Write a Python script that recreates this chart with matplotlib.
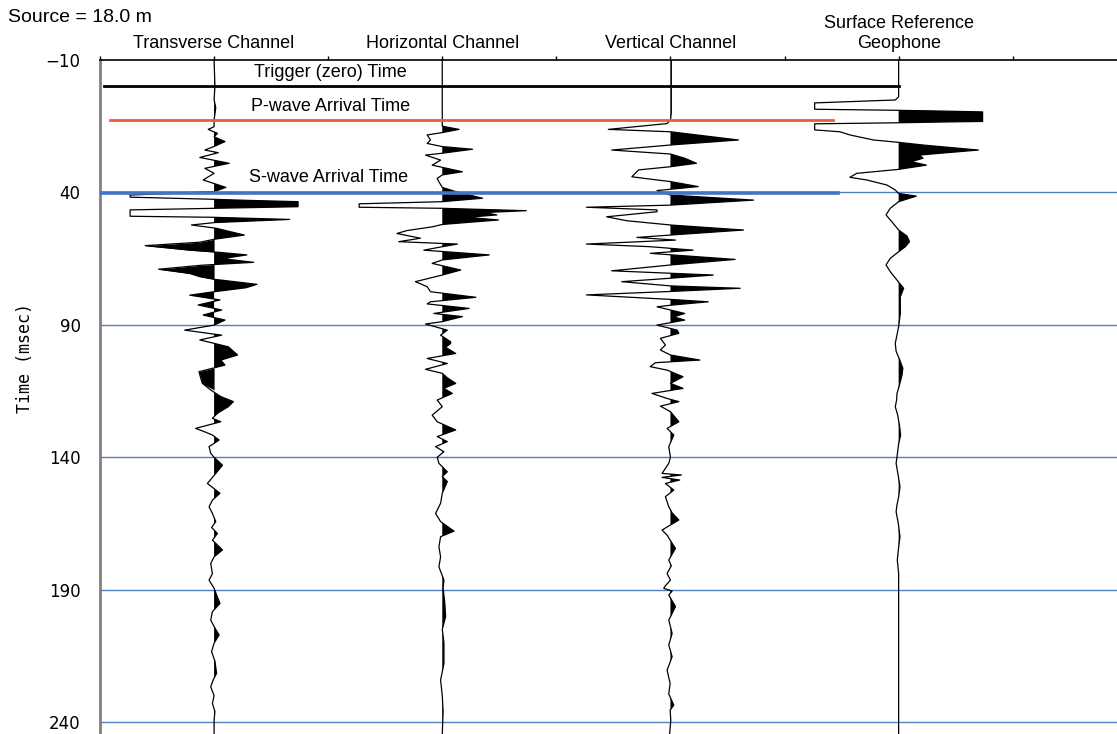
import numpy as np
import matplotlib
matplotlib.use("Agg")
import matplotlib.pyplot as plt

# --- trace data: time (ms) and normalised amplitude (+-1 = clip level) ---
t_transverse = [-10, 0, 5, 8, 12.7, 15.2, 16.2, 17.7, 19, 20.8, 22.5, 24.0, 25.0, 26.8, 29.0, 30.9,
                32.8, 35.3, 38.1, 39.7, 41.0, 41.8, 42.6, 43.0, 43.5, 45.4, 46.0, 46.6, 49.0, 49.4,
                50.2, 51.4, 52.3, 53.5, 56.1, 57.7, 58.8, 60.1, 61.8, 62.6, 63.6, 65.0, 66.4, 67.5,
                69.0, 70.6, 71.8, 72.8, 74.7, 76.0, 77.5, 78.8, 80.6, 82.5, 84.4, 86.3, 88.2, 90.1,
                92.0, 93.9, 95.7, 98.3, 101.4, 103.3, 105.2, 107.7, 110.0, 112.1, 114.6, 117.1,
                119.0, 120.9, 123.4, 125.3, 126.6, 129.1, 130.3, 131.6, 133.5, 136.0, 138.5, 140.0,
                143.0, 146.1, 149.9, 153.6, 156.2, 158.7, 161.2, 164.3, 166.5, 168.8, 171.3, 175.0,
                177.6, 180.1, 183.9, 186.4, 189.5, 192.0, 195.2, 198.3, 201.5, 204.5, 207.1, 210.2,
                213.4, 217.0, 221.6, 224.0, 226.7, 230.0, 233.0, 236.0, 239.3, 244.5]
a_transverse = [0, 0.01, 0.0, 0.02, 0, 0, -0.07, 0.04, 0, 0.13, 0.01, -0.11, 0.05, -0.17, 0.18, -0.11,
                0, -0.13, 0.14, 0, -1.0, -1.0, 0, 0.4, 1.0, 1.0, 0, -1.0, -1.0, 0,
                0.9, 0, -0.27, 0.02, 0.36, 0, -0.17, -0.82, -0.29, 0.05, 0.39, 0.1, 0.47, -0.15,
                -0.66, -0.29, -0.17, 0, 0.51, 0.38, 0, -0.29, 0.07, -0.19, 0.09, -0.13, 0.13, 0,
                -0.35, 0.09, -0.17, 0.17, 0.28, 0.08, 0.13, -0.18, -0.16, -0.14, -0.04, 0.08,
                0.23, 0.17, 0.04, -0.02, 0.08, -0.22, -0.12, -0.02, 0.06, -0.06, -0.04, 0,
                0.1, 0.02, -0.08, 0.07, -0.02, -0.06, -0.02, 0.02, -0.03, 0.04, -0.02, 0.1,
                0, -0.04, -0.02, -0.06, 0, 0.03, 0.07, -0.02, -0.04, 0.01, 0.06, 0.0,
                -0.03, 0.01, 0.03, -0.01, -0.04, 0.0, -0.02, 0.01, 0.0, 0.0]
# windows where the transverse trace is dense enough to look solid on both sides
transverse_dense = [(58.0, 62.5), (67.0, 72.0), (77.0, 89.0), (106.0, 113.0)]

t_horizontal = [-10, 12.7, 15.0, 16.2, 17.4, 18.3, 20.2, 21.5, 22.7, 23.7, 25.2, 25.9, 27.8, 29.7,
                32.2, 33.4, 34.7, 36.0, 38.1, 39.7, 42.2, 43.5, 44.3, 45.6, 46.0, 46.9, 47.6, 48.5,
                49.4, 50.4, 52.1, 53.0, 54.4, 55.5, 57.3, 58.6, 59.5, 60.5, 61.8, 63.6, 65.5, 66.8,
                69.3, 71.2, 73.7, 75.6, 77.5, 79.6, 81.3, 82.1, 83.8, 85.7, 86.9, 88.8, 89.7, 92.0,
                93.9, 96.4, 97.0, 98.5, 100.8, 102.7, 104.6, 106.8, 108.3, 110.0, 112.1, 114.0,
                115.9, 118.4, 120.9, 124.1, 126.6, 129.7, 132.2, 134.1, 136.0, 137.9, 140.0, 142.3,
                145.5, 147.3, 149.2, 153.6, 157.4, 161.2, 164.3, 167.9, 170.0, 173.8, 177.6, 181.4,
                186.4, 189.5, 195.0, 200.2, 205.0, 210.0, 217.9, 224.1, 230.0, 236.0, 244.5]
a_horizontal = [0, 0, 0, 0.2, 0, -0.18, -0.14, -0.18, 0, 0.36, 0, -0.2, -0.02, -0.12,
                0.24, 0, -0.06, -0.04, 0, 0.16, 0.48, 0, -0.99, -0.99, 0, 1.0, 0.5, 0.65,
                0.3, 0.67, 0, -0.12, -0.42, -0.54, -0.26, -0.52, 0.18, 0, -0.22, 0.56, 0, -0.12,
                0.22, 0, -0.32, -0.18, -0.14, 0.4, -0.14, -0.18, 0.32, -0.1, 0.24, 0, -0.2, 0.06,
                -0.02, 0.1, 0.1, 0.04, 0.16, -0.18, 0.06, -0.2, 0, 0.06, 0.16, 0.02,
                0.12, -0.06, 0, -0.12, -0.06, 0.16, -0.06, 0.06, -0.08, 0.02, -0.06, -0.04,
                0.06, 0.0, 0.06, 0, -0.02, -0.08, -0.02, 0.14, -0.02, -0.04, -0.02, -0.04,
                0.02, 0.01, 0.03, 0.04, 0.0, 0.02, 0.02, -0.02, 0.0, 0.01, 0]

t_vertical = [-10, 10, 12.7, 14.0, 16.2, 17.1, 20.2, 22.1, 24.0, 25.5, 27.1, 29.0, 30.3, 31.5,
              34.1, 35.3, 35.9, 37.8, 39.3, 41.0, 42.9, 44.8, 45.6, 46.6, 47.3, 49.2, 50.7, 52.3,
              54.2, 56.1, 57.0, 58.0, 59.5, 60.5, 61.8, 63.0, 65.3, 67.4, 69.6, 71.2, 72.4, 73.7,
              75.3, 76.2, 77.4, 78.7, 80.4, 81.3, 82.6, 83.2, 84.4, 85.7, 87.0, 88.2, 90.1, 92.0,
              93.2, 95.1, 97.6, 99.5, 101.4, 103.3, 104.3, 105.8, 107.1, 109.6, 112.1, 114.0,
              115.9, 117.8, 119.0, 120.7, 122.8, 126.6, 129.1, 131.6, 136.0, 140.0, 142.3, 146.1,
              146.7, 147.6, 148.6, 149.9, 152.4, 154.9, 158.7, 161.0, 163.7, 165.2, 167.5, 169.4,
              172.5, 174.4, 178.8, 181.0, 183.9, 186.4, 188.5, 189.5, 190.5, 192.0, 196.4, 201.5,
              206.5, 210.9, 215.3, 220.4, 225.4, 229.4, 233.6, 235.5, 239.3, 244.5]
a_vertical = [0.01, 0.01, 0, -0.04, -0.74, 0, 0.81, 0, -0.7, 0, 0.17, 0.31, 0, -0.38,
              -0.46, -0.16, 0, 0.33, -0.16, 0, 0.99, 0, -1.0, -0.16, -0.16, -0.76, -0.52, 0,
              0.87, 0, -0.4, 0.06, -1.0, -0.24, 0.27, -0.24, 0.77, 0, -0.7, 0.51, 0, -0.58,
              0, 0.83, 0, -1.0, 0, 0.45, 0, -0.16, 0, 0.17, 0.04, 0.17, -0.16, 0.08,
              0.1, -0.12, -0.06, -0.12, 0, 0.35, -0.18, -0.24, -0.04, 0.15, 0, 0.15,
              -0.22, -0.04, 0.1, -0.12, 0, 0.1, -0.04, 0.04, -0.02, 0, -0.02, -0.1,
              0.13, -0.1, 0.11, -0.06, 0.04, -0.06, -0.02, 0.02, 0.1, 0.02, -0.1, -0.04,
              0.02, 0.06, -0.02, 0.01, -0.04, 0.0, -0.06, -0.08, 0.02, -0.02, 0.06, -0.02,
              0.02, -0.02, 0.02, -0.04, -0.004, -0.02, 0.04, -0.004, 0.004, -0.01]

t_surface = [-10, 3.9, 5.1, 6.2, 8.6, 9.0, 9.3, 9.6, 13.2, 13.4, 13.7, 14.1, 16.4, 17.1, 18.3,
             20.2, 21.1, 22.1, 24.0, 25.2, 25.9, 27.1, 28.4, 29.7, 31.3, 32.8, 34.3, 35.3, 37.2,
             39.1, 40.4, 41.4, 43.5, 46.0, 48.5, 51.1, 54.2, 56.5, 58.6, 60.5, 62.4, 64.9, 67.4,
             69.9, 73.1, 76.2, 79.4, 85.7, 90.7, 97.0, 100.0, 103.0, 106.4, 109.0, 112.7, 116.0,
             118.4, 120.9, 124.0, 128.0, 131.6, 135.0, 139.0, 142.3, 146.0, 151.1, 155.0, 158.0,
             160.6, 165.0, 170.0, 174.0, 178.8, 183.9, 244.5]
a_surface = [0, 0, -0.04, -1.0, -1.0, 0, 0.54, 1.0, 1.0, 0.54, 0, -1.0, -1.0, -0.7, -0.58,
             -0.3, 0, 0.29, 0.95, 0.5, 0.25, 0.29, 0.15, 0.33, 0, -0.5, -0.58, -0.38, -0.14,
             -0.04, 0, 0.21, 0, -0.1, -0.15, -0.08, 0, 0.1, 0.13, 0.08, 0, -0.1, -0.15,
             -0.1, -0.02, 0.06, 0.02, 0.02, 0, -0.04, -0.03, 0.01, 0.05, 0.04, 0.01, -0.02,
             -0.024, -0.04, -0.012, 0.01, 0.024, 0.0, -0.016, -0.03, -0.01, 0.016, 0.0, -0.02,
             -0.03, -0.004, 0.016, 0.0, -0.016, 0, 0]

channels = ["Transverse Channel", "Horizontal Channel", "Vertical Channel",
            "Surface Reference\nGeophone"]
time_ticks = [-10, 40, 90, 140, 190, 240]
trigger_time = 0.0
p_arrival = 12.7
s_arrival = 40.2

# --- figure ---
fig = plt.figure(figsize=(11.17, 7.34), dpi=100)
ax = fig.add_axes([100 / 1117, 0, 1017 / 1117, 674 / 734])
ax.set_xlim(0.5, 4.957)
ax.set_ylim(244.5, -10)

grid_color = "#4f7fbf"
for t in time_ticks[1:]:
    ax.axhline(t, color=grid_color, lw=1.0, zorder=1)

amp_scale = 0.368
traces = [(t_transverse, a_transverse), (t_horizontal, a_horizontal),
          (t_vertical, a_vertical), (t_surface, a_surface)]
for i, (t, a) in enumerate(traces):
    base = i + 1
    t = np.array(t)
    a = np.clip(np.array(a), -1, 1)
    x = base + a * amp_scale
    ax.fill_betweenx(t, base, x, where=a > 0, interpolate=True, color="k", lw=0, zorder=3)
    ax.plot(x, t, color="k", lw=0.9, zorder=4)

# shade the dense parts of the transverse trace
tt = np.array(t_transverse)
aa = np.clip(np.array(a_transverse), -1, 1)
for t0, t1 in transverse_dense:
    m = (tt >= t0) & (tt <= t1)
    ax.fill_betweenx(tt, 1, 1 + aa * amp_scale, where=m & (aa < 0), interpolate=True,
                     color="k", lw=0, zorder=3)

# arrival-time markers
ax.plot([0.516, 4.0], [trigger_time + 0.35, trigger_time + 0.35], color="#c8c860", lw=0.6, zorder=5)
ax.plot([0.516, 4.0], [trigger_time, trigger_time], color="k", lw=2.0, zorder=5)
ax.plot([0.542, 3.712], [p_arrival, p_arrival], color="#ef5a3c", lw=2.0, zorder=5)
ax.plot([0.5, 3.735], [s_arrival, s_arrival], color="#4472c4", lw=2.6, zorder=5)

lab_font = dict(family="Liberation Sans", fontsize=13, ha="center", va="center")
ax.text(1.51, -5.2, "Trigger (zero) Time", **lab_font)
ax.text(1.51, 7.6, "P-wave Arrival Time", **lab_font)
ax.text(1.50, 34.3, "S-wave Arrival Time", **lab_font)

for i, name in enumerate(channels):
    ax.annotate(name, xy=(i + 1, 1), xycoords=("data", "axes fraction"),
                xytext=(0, 6), textcoords="offset points", ha="center", va="bottom",
                family="Liberation Sans", fontsize=13)

# axes styling
ax.xaxis.tick_top()
ax.set_xticks(np.arange(0.5, 5.0, 0.5))
ax.set_xticklabels([])
ax.tick_params(axis="x", length=3, width=1, color="k")
ax.set_yticks(time_ticks)
ax.tick_params(axis="y", length=0, pad=14, labelsize=12)
for s in ["right", "bottom"]:
    ax.spines[s].set_visible(False)
ax.spines["left"].set_color("#808080")
ax.spines["left"].set_linewidth(2)
ax.spines["top"].set_linewidth(1.2)

fig.text(8 / 1117, 1 - 17 / 734, "Source = 18.0 m", family="Liberation Sans", fontsize=14,
         va="center")
fig.text(25 / 1117, 1 - 358 / 734, "Time (msec)", family="DejaVu Sans Mono", fontsize=12,
         rotation=90, ha="center", va="center")

fig.savefig("out.png", dpi=100)
